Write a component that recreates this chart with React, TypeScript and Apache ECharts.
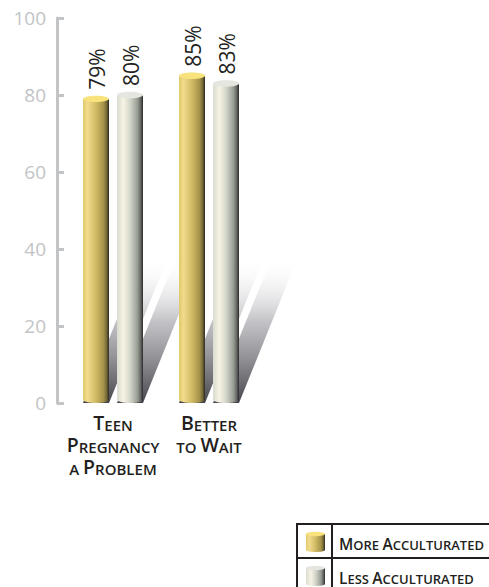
import React, { useEffect, useRef } from "react";
import * as echarts from "echarts";

const categories = ["Teen\nPregnancy\na Problem", "Better\nto Wait"];
const seriesNames = ["More Acculturated", "Less Acculturated"];
const moreValues = [79, 85];
const lessValues = [80, 83];
const yMin = 0;
const yMax = 100;
const yInterval = 20;
const shadowLevel = 38;

const FONT = "Open Sans";

const palettes = [
  {
    body: [
      [0, "#e2c96e"],
      [0.18, "#f1db8c"],
      [0.45, "#d6c06a"],
      [0.78, "#a8954a"],
      [0.9, "#7a6c38"],
      [1, "#2c2a24"],
    ],
    cap: "#f8e27c",
  },
  {
    body: [
      [0, "#d9dccf"],
      [0.25, "#f7f3e4"],
      [0.5, "#d3d6ca"],
      [0.78, "#9a9f96"],
      [0.9, "#6a6d68"],
      [1, "#2a2a2a"],
    ],
    cap: "#e5e6e0",
  },
];

function grad(stops: any[], x2 = 1, y2 = 0) {
  return {
    type: "linear",
    x: 0,
    y: 0,
    x2,
    y2,
    colorStops: stops.map(([offset, color]) => ({ offset, color })),
  };
}

function smallCaps(text: string, big = "b", small = "s") {
  return text
    .split("\n")
    .map((line) =>
      line.replace(/([A-Z])|([a-z]+)/g, (_m, up, low) =>
        up ? `{${big}|${up}}` : `{${small}|${String(low).toUpperCase()}}`
      )
    )
    .join("\n");
}

const BAR_FRAC = 26 / 96;
const GAP_FRAC = 8 / 96;

function barGeom(api: any, seriesIdx: number) {
  const cat = api.value(0);
  const val = api.value(1);
  const base = api.coord([cat, 0]);
  const top = api.coord([cat, val]);
  const band = api.size([1, 0])[0];
  const bw = band * BAR_FRAC;
  const gap = band * GAP_FRAC;
  const cx = base[0] + (seriesIdx === 0 ? -1 : 1) * (gap / 2 + bw / 2);
  return { cat, val, base, top, bw, cx, x0: cx - bw / 2 };
}

function bodyRenderer(seriesIdx: number) {
  const pal = palettes[seriesIdx];
  return (_params: any, api: any) => {
    const g = barGeom(api, seriesIdx);
    const ry = 3.2;
    return {
      type: "group",
      children: [
        {
          type: "rect",
          shape: { x: g.x0, y: g.top[1], width: g.bw, height: g.base[1] - ry - g.top[1] },
          style: { fill: grad(pal.body) },
        },
        {
          type: "ellipse",
          shape: { cx: g.cx, cy: g.base[1] - ry, rx: g.bw / 2, ry },
          style: { fill: grad(pal.body) },
        },
        {
          type: "ellipse",
          shape: { cx: g.cx, cy: g.top[1], rx: g.bw / 2, ry },
          style: { fill: pal.cap },
        },
        {
          type: "text",
          x: g.cx + 1,
          y: g.top[1] - 9,
          rotation: Math.PI / 2,
          style: {
            text: g.val + "%",
            fill: "#231f20",
            fontSize: 21,
            fontFamily: FONT,
            align: "left",
            verticalAlign: "middle",
          },
        },
      ],
    };
  };
}

function shadowRenderer(seriesIdx: number) {
  return (_params: any, api: any) => {
    const g = barGeom(api, seriesIdx);
    const topY = api.coord([g.cat, shadowLevel])[1];
    const h = g.base[1] - topY;
    const d = (h * 59) / 146;
    return {
      type: "polygon",
      shape: {
        points: [
          [g.x0, g.base[1]],
          [g.x0 + g.bw, g.base[1]],
          [g.x0 + g.bw + d, topY],
          [g.x0 + d, topY],
        ],
      },
      style: {
        fill: grad(
          [
            [0, "rgba(255,255,255,0)"],
            [0.45, "rgba(172,172,178,0.75)"],
            [1, "rgba(70,70,76,1)"],
          ],
          0,
          1
        ),
      },
    };
  };
}

function legendGraphic() {
  const els: any[] = [];
  const stroke = "#231f20";
  const left = 297;
  const sep = 332;
  const top = 524;
  const rowH = 34;
  els.push({ type: "line", shape: { x1: left, y1: top, x2: 489, y2: top }, style: { stroke, lineWidth: 2 } });
  els.push({ type: "line", shape: { x1: left, y1: top + rowH, x2: 489, y2: top + rowH }, style: { stroke, lineWidth: 2 } });
  els.push({ type: "line", shape: { x1: left, y1: top - 1, x2: left, y2: 587 }, style: { stroke, lineWidth: 2 } });
  els.push({ type: "line", shape: { x1: sep, y1: top - 1, x2: sep, y2: 587 }, style: { stroke, lineWidth: 2 } });
  seriesNames.forEach((name, i) => {
    const y0 = top + i * rowH;
    const pal = palettes[i];
    els.push({ type: "rect", shape: { x: 306, y: y0 + 10, width: 19, height: 16 }, style: { fill: grad(pal.body) } });
    els.push({ type: "ellipse", shape: { cx: 315.5, cy: y0 + 26, rx: 9.5, ry: 2 }, style: { fill: grad(pal.body) } });
    els.push({ type: "ellipse", shape: { cx: 315.5, cy: y0 + 10, rx: 9.5, ry: 2.2 }, style: { fill: pal.cap } });
    els.push({
      type: "text",
      x: 339,
      y: y0 + 17.5,
      style: {
        text: smallCaps(name, "lb", "ls"),
        fill: stroke,
        fontSize: 13,
        fontFamily: FONT,
        fontWeight: 600,
        verticalAlign: "middle",
        align: "left",
        rich: {
          lb: { fontSize: 15.5, fontFamily: FONT, fontWeight: 600, fill: stroke, lineHeight: 20, verticalAlign: "bottom" },
          ls: { fontSize: 13, fontFamily: FONT, fontWeight: 600, fill: stroke, lineHeight: 18.1, verticalAlign: "bottom" },
        },
      },
    });
  });
  return els;
}

export default function App() {
  const ref = useRef<HTMLDivElement>(null);
  useEffect(() => {
    if (!ref.current) return;
    const chart = echarts.init(ref.current, undefined, { renderer: "svg" });
    const dataMore = moreValues.map((v, i) => [i, v]);
    const dataLess = lessValues.map((v, i) => [i, v]);
    chart.setOption({
      animation: false,
      backgroundColor: "#ffffff",
      grid: { left: 65, right: 232, top: 18, bottom: 184 },
      xAxis: {
        type: "category",
        data: categories,
        axisLine: { show: false },
        axisTick: { show: false },
        axisLabel: {
          interval: 0,
          margin: 7,
          color: "#231f20",
          fontSize: 15,
          fontWeight: 600,
          fontFamily: FONT,
          lineHeight: 22,
          formatter: (v: string) => smallCaps(v),
          rich: {
            b: { fontSize: 19.5, fontFamily: FONT, fontWeight: 600, color: "#231f20", lineHeight: 22, verticalAlign: "bottom" },
            s: { fontSize: 15, fontFamily: FONT, fontWeight: 600, color: "#231f20", lineHeight: 18.6, verticalAlign: "bottom" },
          },
        },
      },
      yAxis: {
        type: "value",
        min: yMin,
        max: yMax,
        interval: yInterval,
        offset: 8,
        axisLine: { show: true, lineStyle: { color: "#c2c4c6", width: 3 } },
        axisTick: { show: true, inside: true, length: 7, lineStyle: { color: "#c2c4c6", width: 3 } },
        axisLabel: { color: "#c2c4c6", fontSize: 19, fontFamily: FONT, margin: 11 },
        splitLine: { show: false },
      },
      series: [
        { type: "custom", name: seriesNames[0] + " shadow", z: 1, data: dataMore, encode: { x: 0, y: 1 }, renderItem: shadowRenderer(0) },
        { type: "custom", name: seriesNames[1] + " shadow", z: 1, data: dataLess, encode: { x: 0, y: 1 }, renderItem: shadowRenderer(1) },
        { type: "custom", name: seriesNames[0], z: 2, data: dataMore, encode: { x: 0, y: 1 }, renderItem: bodyRenderer(0) },
        { type: "custom", name: seriesNames[1], z: 2, data: dataLess, encode: { x: 0, y: 1 }, renderItem: bodyRenderer(1) },
      ],
      graphic: { elements: legendGraphic() },
    });
    return () => chart.dispose();
  }, []);
  return <div ref={ref} style={{ position: "absolute", left: 0, top: 0, width: 489, height: 587 }} />;
}
